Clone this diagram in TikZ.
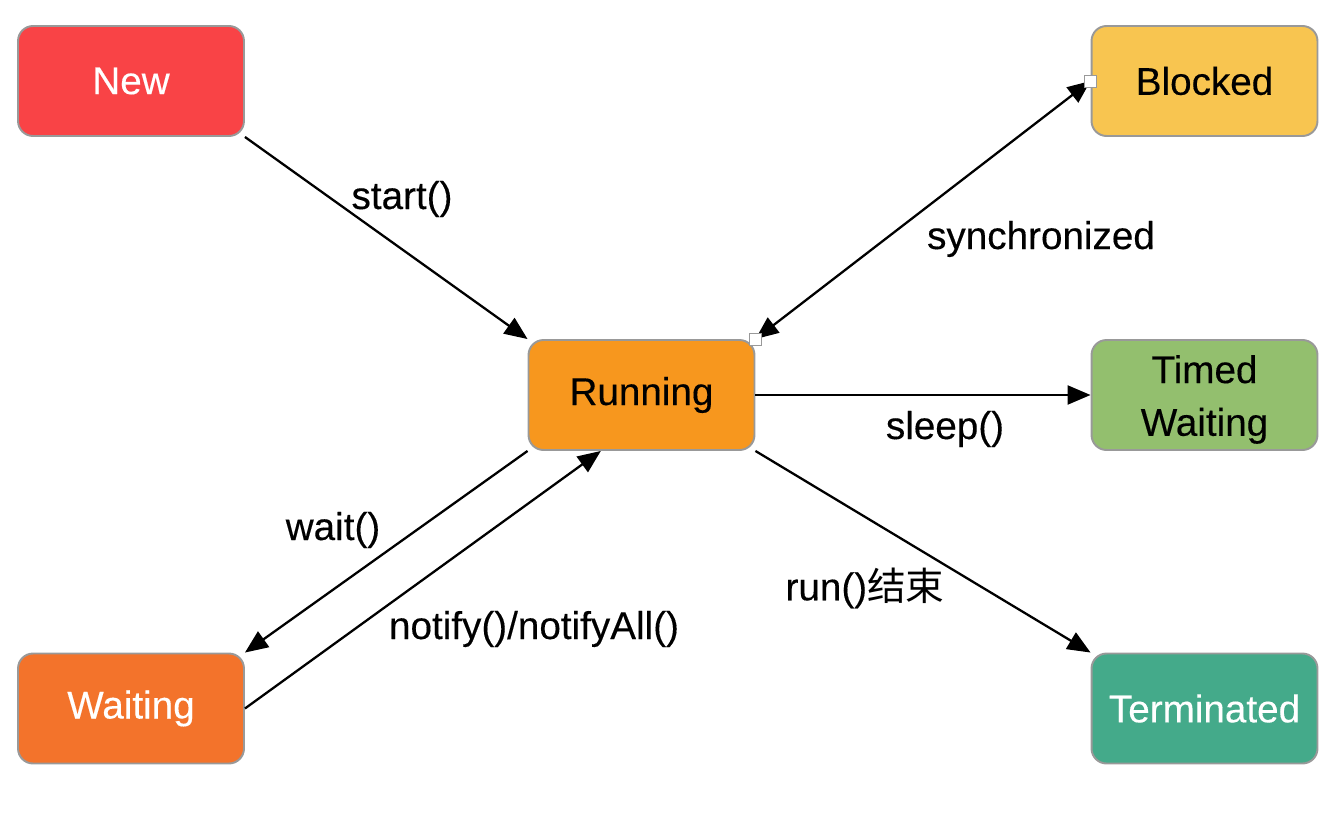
\documentclass[tikz,border=0pt]{standalone}
\usepackage{fontspec}
\setmainfont{Liberation Sans}[FakeBold=0.3]
\newfontfamily\cjk{Noto Sans CJK SC}
\usepackage{tikz}
\usetikzlibrary{arrows.meta}
\definecolor{newred}{HTML}{F94346}
\definecolor{blockyellow}{HTML}{F8C550}
\definecolor{runorange}{HTML}{F7971E}
\definecolor{timedgreen}{HTML}{93BF6E}
\definecolor{waitorange}{HTML}{F3732B}
\definecolor{termgreen}{HTML}{44AA8A}
\tikzset{
    state/.style={
        draw=black!40,
        line width=1.1pt,
        rounded corners=0.3cm,
        minimum width=4.52cm,
        minimum height=2.2cm,
        inner sep=0,
        align=center,
        font=\fontsize{22}{30}\selectfont,
    },
    lbl/.style={
        inner sep=0,
        font=\fontsize{22}{26}\selectfont,
    },
    arr/.style={
        -{Triangle[length=0.46cm,width=0.38cm]},
        line width=1.3pt,
    },
    darr/.style={
        {Triangle[length=0.46cm,width=0.38cm]}-{Triangle[length=0.46cm,width=0.38cm]},
        line width=1.3pt,
    },
    handle/.style={
        draw=black!40,
        fill=white,
        inner sep=0,
        minimum size=0.24cm,
    },
}

\begin{document}
\begin{tikzpicture}[x=0.02cm, y=-0.02cm]
            \useasboundingbox (0, 0) rectangle (1332, 812) ;

            \node[state, fill=newred, text=white] at (131, 81) (new) {New} ;
            \node[state, fill=blockyellow] at (1204.5, 81) (blocked) {Blocked} ;
            \node[state, fill=runorange] at (641.5, 395) (running) {Running} ;
            \node[state, fill=timedgreen] at (1204.5, 395) (timed) {\rule{0pt}{21pt}Timed\\Waiting} ;
            \node[state, fill=waitorange, text=white] at (131, 708.5) (waiting) {Waiting} ;
            \node[state, fill=termgreen, text=white] at (1204.5, 708.5) (term) {Terminated} ;

            \draw[arr] (new.south east) -- (running.north west) ;
            \draw[darr] (running.north east) -- (blocked.west) ;
            \draw[arr] (running.east) -- (timed.west) ;
            \draw[arr] (running.south west) -- (waiting.north east) ;
            \draw[arr] (waiting.east) -- (running.234) ;
            \draw[arr] (running.south east) -- (term.north west) ;

            \node[handle] at (running.north east) (hrun) {} ;
            \node[handle] at (blocked.west) (hblock) {} ;

            \node[lbl] at (402, 199) (lstart) {start()} ;
            \node[lbl] at (1041, 239) (lsync) {synchronized} ;
            \node[lbl] at (945, 429) (lsleep) {sleep()} ;
            \node[lbl] at (333, 530) (lwait) {wait()} ;
            \node[lbl] at (534, 629) (lnotify) {notify()/notifyAll()} ;
            \node[lbl] at (865, 588) (lrun) {run()\cjk{结束}} ;
        \end{tikzpicture}
\end{document}
